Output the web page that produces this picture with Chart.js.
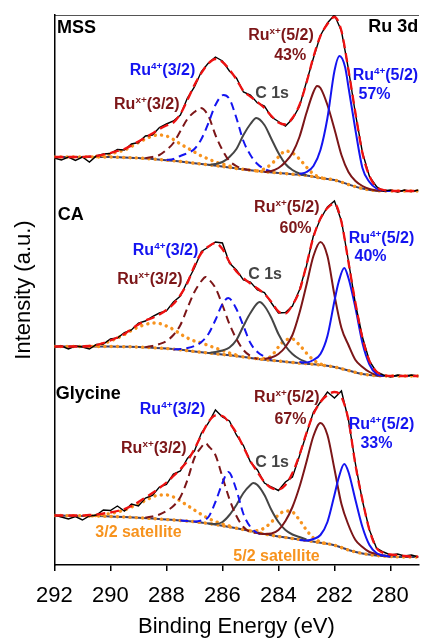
<!DOCTYPE html>
<html>
<head>
<meta charset="utf-8">
<script src="https://cdn.jsdelivr.net/npm/chart.js@4"></script>
<style>
  html, body { margin: 0; padding: 0; background: #fff; }
  canvas { display: block; }
</style>
</head>
<body>
<canvas id="xps" width="421" height="638"></canvas>
<script>
// Ru 3d / C 1s region, three samples stacked with an offset each
const energy = [292, 291.75, 291.5, 291.25, 291, 290.75, 290.5, 290.25, 290, 289.75, 289.5, 289.25, 289,
  288.75, 288.5, 288.25, 288, 287.75, 287.5, 287.25, 287, 286.75, 286.5, 286.25, 286, 285.75, 285.5, 285.25,
  285, 284.75, 284.5, 284.25, 284, 283.75, 283.5, 283.25, 283, 282.75, 282.5, 282.25, 282, 281.75, 281.5,
  281.25, 281, 280.75, 280.5, 280.25, 280, 279.75, 279.5, 279.25, 279];
const energyTicks = [292, 290, 288, 286, 284, 282, 280];
const samples = ['MSS', 'CA', 'Glycine'];
const ruxShare = [43, 60, 67];
const ru4Share = [57, 40, 33];

// MSS
const mssData = [33, 31, 34, 30.5, 34, 29, 35, 37, 37.5, 41.5, 41, 47, 48.5, 55, 56, 63.5, 67, 70, 76, 93, 104,
  119.5, 128, 134, 130, 120, 113, 99, 96, 88, 85, 74, 69.5, 65, 72, 84.5, 109, 133, 155.5, 168, 176, 160, 122,
  77, 38.5, 14.5, 4.5, 0, 1, -1, 1, -0.5, 1];
const mssFit = [34, 34, 34, 34, 34, 34.5, 35, 36.5, 38, 40, 42, 45.5, 49.5, 53.5, 57.5, 62, 65.5, 68.5, 77, 91,
  106, 118, 127.5, 132, 129, 121.5, 111.5, 100, 94.3, 89, 83, 75, 68.5, 66.5, 73, 86, 108, 134, 155, 167, 174,
  160, 121, 78, 38, 15, 4, 1, 0.3, 0, 0, 0, 0];
const mssBackground = [[292, 34], [291, 34], [290, 34], [289.5, 33.5], [289, 33], [288.5, 32], [288, 30.8],
  [287.5, 29.5], [287, 27.8], [286.5, 26.2], [286, 24.5], [285.5, 22.5], [285, 20.8], [284.5, 19.3], [284, 18],
  [283.5, 16.8], [283, 15.5], [282.5, 13], [282, 11], [281.5, 6.5], [281, 2.5], [280.5, 0.3], [280, 0], [279, 0]];
const mssRu4_52 = [[283.25, 17], [283, 19], [282.75, 25], [282.5, 41], [282.25, 73], [282, 120], [281.82, 135],
  [281.62, 124], [281.5, 104], [281.25, 61], [281, 23], [280.75, 9], [280.5, 2.5], [280.25, 0.5], [280, 0]];
const mssRux_52 = [[284.5, 19], [284.25, 20], [284, 23], [283.75, 29], [283.5, 38], [283.25, 54], [283, 78],
  [282.75, 99], [282.62, 105], [282.5, 103], [282.25, 86], [282, 62], [281.75, 36], [281.5, 19], [281.25, 10],
  [281, 5], [280.75, 2], [280.5, 0.5], [280.25, 0]];
const mssRu4_32 = [[288, 31], [287.75, 32], [287.5, 35], [287.25, 38], [287, 42], [286.75, 52], [286.5, 68],
  [286.25, 86], [285.96, 96], [285.75, 92], [285.5, 73], [285.25, 50], [285, 36], [284.75, 27], [284.5, 22],
  [284.25, 19.5]];
const mssRux_32 = [[288.75, 33], [288.5, 34], [288.25, 36], [288, 41], [287.75, 48], [287.5, 60], [287.25, 72],
  [287, 79], [286.78, 83], [286.5, 75], [286.25, 56], [286, 41], [285.75, 30], [285.5, 25], [285.25, 22], [285, 21]];
const mssC1s = [[286.5, 26], [286.25, 27], [286, 29], [285.75, 34], [285.5, 42], [285.25, 56], [285, 67],
  [284.79, 73], [284.5, 66], [284.25, 52], [284, 38], [283.75, 27], [283.5, 21], [283.25, 17.5], [283, 16]];
const mssSat52 = [[284.75, 20], [284.5, 22], [284.25, 27], [284, 34], [283.75, 40], [283.5, 38], [283.25, 32],
  [283, 24], [282.75, 17], [282.5, 13.5], [282.25, 12]];
const mssSat32 = [[290.5, 34.5], [290.25, 35.5], [290, 37], [289.75, 39], [289.5, 41], [289.25, 44.5], [289, 48.5],
  [288.75, 52], [288.5, 55], [288.25, 56], [288, 55], [287.75, 51.5], [287.5, 47], [287.25, 43], [287, 39],
  [286.75, 35], [286.5, 32], [286.25, 29], [286, 27], [285.75, 25], [285.5, 23]];

// CA
const caData = [29, 30, 27, 30, 29, 27, 31.5, 32, 37, 38, 43.5, 46, 53, 55, 59.5, 63, 65, 74, 80, 94.5, 108,
  124.5, 129, 134, 133, 113, 106, 96, 94, 86, 83.5, 73, 63, 63.5, 70, 86, 110, 140.5, 157, 169, 175, 155, 115,
  72, 39, 15, 4, 1, -1, 1, 0, 1, 0];
const caFit = [29.5, 29.5, 29.5, 29.5, 29.5, 30, 31, 33, 35.5, 38.5, 42, 47, 51.5, 55.5, 58, 61.5, 66, 72, 81,
  93, 110, 123, 129.5, 133, 127, 114, 104.5, 98, 92.5, 87.5, 82, 74, 64.5, 62.5, 71, 85, 111, 139, 157.5, 168,
  172.5, 154, 114, 73, 38, 15, 4.5, 1, 0, 0, 0, 0, 0];
const caBackground = [[292, 29.5], [290, 29.5], [289.5, 29.3], [289, 29], [288.5, 28.3], [288, 27.5],
  [287.5, 26.2], [287, 24.5], [286.5, 23], [286, 21.5], [285.5, 20], [285, 18], [284.5, 16.3], [284, 15],
  [283.5, 13.5], [283, 12.3], [282.5, 11], [282, 9], [281.5, 5.5], [281, 2], [280.5, 0.3], [280, 0], [279, 0]];
const caRu4_52 = [[283.25, 14], [283, 13.5], [282.75, 16], [282.5, 22], [282.25, 40], [282, 75], [281.85, 94],
  [281.65, 108], [281.5, 98], [281.25, 68], [281, 33], [280.75, 11.5], [280.5, 2], [280.25, 0]];
const caRux_52 = [[284.5, 17], [284.25, 18.5], [284, 22], [283.75, 29], [283.5, 41], [283.25, 63], [283, 91],
  [282.75, 120], [282.5, 134], [282.25, 120], [282, 81], [281.75, 48], [281.5, 31], [281.25, 16], [281, 9],
  [280.75, 4], [280.5, 1], [280.25, 0]];
const caRu4_32 = [[287.75, 26.5], [287.5, 27], [287.25, 28], [287, 30], [286.75, 34], [286.5, 42], [286.25, 56],
  [286, 72], [285.79, 78], [285.5, 67], [285.25, 50], [285, 33], [284.75, 24], [284.5, 19.5], [284.25, 17]];
const caRux_32 = [[288.75, 29], [288.5, 30], [288.25, 32], [288, 35], [287.75, 41], [287.5, 51], [287.25, 68],
  [287, 84], [286.75, 95], [286.6, 99], [286.5, 97], [286.25, 88], [286, 71], [285.75, 52], [285.5, 37],
  [285.25, 26], [285, 20], [284.75, 17]];
const caC1s = [[286.5, 23], [286.25, 24], [286, 25.5], [285.75, 28.5], [285.5, 36], [285.25, 50], [285, 63],
  [284.67, 74], [284.5, 70], [284.25, 58], [284, 42], [283.75, 30], [283.5, 22], [283.25, 17], [283, 14]];
const caSat52 = [[284.75, 17.5], [284.5, 17.5], [284.25, 20], [284, 29], [283.75, 36], [283.5, 37], [283.25, 31],
  [283, 23], [282.75, 16], [282.5, 12], [282.25, 10.5]];
const caSat32 = [[290.75, 29.5], [290.5, 30.5], [290.25, 32.5], [290, 35], [289.75, 38], [289.5, 41.5],
  [289.25, 45.5], [289, 49], [288.75, 51.5], [288.5, 53], [288.25, 52.5], [288, 50], [287.75, 46.5], [287.5, 42],
  [287.25, 38], [287, 35], [286.75, 33], [286.5, 30.5], [286.25, 28], [286, 25.5], [285.75, 23], [285.5, 21]];

// Glycine
const glyData = [42, 40, 38, 40.5, 37, 41, 42, 47, 46.5, 51, 46, 53, 51, 59, 61.5, 70, 72.5, 83, 86, 98.5, 106,
  124, 134, 147, 140, 136, 122, 111.5, 95, 87, 74, 70, 66.5, 75, 80, 101, 123, 145, 155, 165, 159, 166, 137,
  93, 56, 27, 9, 5, 2, 3, 1, 2, 0];
const glyFit = [41.5, 41.5, 41.5, 41.5, 41.5, 42, 42.5, 43.5, 44.5, 46, 48, 51, 55, 59.5, 64, 69, 74.5, 81, 88,
  96, 108, 122, 135, 141.5, 141, 134, 124, 110, 96, 85, 75, 69, 67.5, 72, 84, 102, 124, 143, 155, 162, 165,
  160, 137, 92, 57, 27, 9, 4, 2.5, 2, 1, 0.5, 0.3];
const glyBackground = [[292, 41.5], [290.5, 41], [290, 40.5], [289.5, 40], [289, 39.3], [288.5, 38.5],
  [288, 37.5], [287.5, 36.5], [287, 35.3], [286.5, 33.5], [286, 31.3], [285.5, 28.8], [285, 26], [284.5, 23],
  [284, 20.5], [283.5, 18.5], [283, 16.5], [282.5, 14.3], [282, 11.8], [281.5, 7], [281, 3.5], [280.5, 1.5],
  [280, 0.5], [279.5, 0], [279, 0]];
const glyRu4_52 = [[283.25, 17], [283, 16.5], [282.75, 18], [282.5, 22], [282.25, 35], [282, 62], [281.85, 79],
  [281.65, 93], [281.5, 85], [281.25, 57], [281, 30], [280.75, 12], [280.5, 4], [280.25, 1.5], [280, 0.5]];
const glyRux_52 = [[284.75, 24], [284.5, 23], [284.25, 23.5], [284, 27], [283.75, 36], [283.5, 50], [283.25, 70],
  [283, 95], [282.75, 121], [282.5, 134], [282.25, 122], [282, 88], [281.75, 53], [281.5, 32], [281.25, 17],
  [281, 10], [280.75, 5], [280.5, 3], [280.25, 1.5], [280, 0.5]];
const glyRu4_32 = [[287.5, 36.5], [287.25, 36], [287, 35.5], [286.75, 36.5], [286.5, 40], [286.25, 55], [286, 74],
  [285.79, 85], [285.5, 67], [285.25, 43], [285, 30], [284.75, 24], [284.5, 22]];
const glyRux_32 = [[288.75, 39.5], [288.5, 40.5], [288.25, 42.5], [288, 46], [287.75, 51], [287.5, 60],
  [287.25, 77], [287, 99], [286.75, 110], [286.6, 114], [286.5, 111], [286.25, 102], [286, 80], [285.75, 58],
  [285.5, 41], [285.25, 30], [285, 25], [284.75, 24]];
const glyC1s = [[286.5, 33.5], [286.25, 33], [286, 35], [285.75, 42], [285.5, 52], [285.25, 64], [285, 72],
  [284.9, 74], [284.75, 72], [284.5, 62], [284.25, 47], [284, 35], [283.75, 27], [283.5, 22.5], [283.25, 20],
  [283, 17.5]];
const glySat52 = [[285, 26], [284.75, 26.5], [284.5, 29], [284.25, 35], [284, 42], [283.75, 46], [283.5, 45],
  [283.25, 37], [283, 27], [282.75, 19], [282.5, 15], [282.25, 13]];
const glySat32 = [[290.75, 41], [290.5, 41.5], [290.25, 42.5], [290, 43.5], [289.75, 45], [289.5, 47],
  [289.25, 50], [289, 53], [288.75, 56.5], [288.5, 60], [288.25, 62], [288, 62], [287.75, 60], [287.5, 56],
  [287.25, 51.5], [287, 47], [286.75, 42.5], [286.5, 38.5], [286.25, 35.5], [286, 33], [285.75, 31]];

// vertical shift of each spectrum in the stack
const panelOffset = [374, 189, 8];

const FONT = '"Liberation Sans", Arial, sans-serif';
const BLUE = '#1414f0';
const WINE = '#7c1618';
const GREY = '#454545';
const ORANGE = '#f7931e';
const RED = '#ee1111';

const panels = [
  { data: mssData, fit: mssFit, bg: mssBackground, b52: mssRu4_52, r52: mssRux_52, b32: mssRu4_32, r32: mssRux_32, c: mssC1s, s52: mssSat52, s32: mssSat32 },
  { data: caData, fit: caFit, bg: caBackground, b52: caRu4_52, r52: caRux_52, b32: caRu4_32, r32: caRux_32, c: caC1s, s52: caSat52, s32: caSat32 },
  { data: glyData, fit: glyFit, bg: glyBackground, b52: glyRu4_52, r52: glyRux_52, b32: glyRu4_32, r32: glyRux_32, c: glyC1s, s52: glySat52, s32: glySat32 }
];

function onGrid(vals, off) {
  return energy.map((e, i) => ({ x: e, y: vals[i] + off }));
}
function fromPairs(pairs, off) {
  return pairs.map(p => ({ x: p[0], y: p[1] + off }));
}
function curve(points, color, extra) {
  return Object.assign({
    data: points, borderColor: color, borderWidth: 2, pointRadius: 0, fill: false,
    cubicInterpolationMode: 'monotone'
  }, extra || {});
}

const dots = { borderDash: [0.1, 6.2], borderCapStyle: 'round', borderWidth: 3.4 };
const dashes = { borderDash: [8, 5] };

const datasets = [];
panels.forEach((p, i) => {
  const off = panelOffset[i];
  datasets.push(curve(onGrid(p.fit, off), RED, { borderDash: [9, 5], borderWidth: 2.3, order: 0 }));
  datasets.push(curve(onGrid(p.data, off), '#000', { borderWidth: 1.4, cubicInterpolationMode: 'default', tension: 0, order: 1 }));
  datasets.push(curve(fromPairs(p.b52, off), BLUE, { order: 2 }));
  datasets.push(curve(fromPairs(p.r52, off), WINE, { order: 2 }));
  datasets.push(curve(fromPairs(p.b32, off), BLUE, Object.assign({ order: 2 }, dashes)));
  datasets.push(curve(fromPairs(p.r32, off), WINE, Object.assign({ order: 2 }, dashes)));
  datasets.push(curve(fromPairs(p.c, off), GREY, { order: 2 }));
  datasets.push(curve(fromPairs(p.s52, off), ORANGE, Object.assign({ order: 3 }, dots)));
  datasets.push(curve(fromPairs(p.s32, off), ORANGE, Object.assign({ order: 3 }, dots)));
  datasets.push(curve(fromPairs(p.bg, off), ORANGE, Object.assign({ order: 4 }, dots)));
  datasets.push(curve(fromPairs(p.bg, off), '#3a3f6a', { borderWidth: 2, order: 5 }));
});

// annotation placement: energy, height on the y scale, colour, size, alignment
const notes = [
  { t: samples[0], x: 291.91, y: 532, c: '#000', s: 18 },
  { t: 'Ru 3d', x: 280.79, y: 533, c: '#000', s: 18 },
  { t: 'Ru^4+^(3/2)', x: 289.31, y: 490, c: BLUE },
  { t: 'Ru^x+^(3/2)', x: 289.87, y: 456, c: WINE },
  { t: 'C 1s', x: 284.83, y: 467, c: GREY },
  { t: 'Ru^x+^(5/2)', x: 285.08, y: 525, c: WINE },
  { t: ruxShare[0] + '%', x: 283.58, y: 505, c: WINE, a: 'center' },
  { t: 'Ru^4+^(5/2)', x: 281.35, y: 485, c: BLUE },
  { t: ru4Share[0] + '%', x: 280.57, y: 466, c: BLUE, a: 'center' },

  { t: samples[1], x: 291.88, y: 345, c: '#000', s: 18 },
  { t: 'Ru^4+^(3/2)', x: 289.20, y: 310, c: BLUE },
  { t: 'Ru^x+^(3/2)', x: 289.76, y: 281, c: WINE },
  { t: 'C 1s', x: 285.08, y: 286, c: GREY },
  { t: 'Ru^x+^(5/2)', x: 284.87, y: 353, c: WINE },
  { t: ruxShare[1] + '%', x: 283.39, y: 332, c: WINE, a: 'center' },
  { t: 'Ru^4+^(5/2)', x: 281.49, y: 322, c: BLUE },
  { t: ru4Share[1] + '%', x: 280.71, y: 304, c: BLUE, a: 'center' },

  { t: samples[2], x: 291.95, y: 166, c: '#000', s: 18 },
  { t: 'Ru^4+^(3/2)', x: 288.95, y: 151, c: BLUE },
  { t: 'Ru^x+^(3/2)', x: 289.62, y: 112, c: WINE },
  { t: 'C 1s', x: 284.83, y: 98, c: GREY },
  { t: 'Ru^x+^(5/2)', x: 284.87, y: 163, c: WINE },
  { t: ruxShare[2] + '%', x: 283.57, y: 141, c: WINE, a: 'center' },
  { t: 'Ru^4+^(5/2)', x: 281.49, y: 136, c: BLUE },
  { t: ru4Share[2] + '%', x: 280.50, y: 117, c: BLUE, a: 'center' },
  { t: '3/2 satellite', x: 290.54, y: 28, c: ORANGE },
  { t: '5/2 satellite', x: 285.61, y: 4, c: ORANGE }
];

// text with ^...^ parts raised as superscript
function drawRich(ctx, text, x, y, size, align) {
  const parts = text.split('^');
  const sizeOf = i => (i % 2 ? size * 0.62 : size);
  let w = 0;
  parts.forEach((part, i) => {
    ctx.font = 'bold ' + sizeOf(i) + 'px ' + FONT;
    w += ctx.measureText(part).width;
  });
  let cx = align === 'center' ? x - w / 2 : x;
  parts.forEach((part, i) => {
    ctx.font = 'bold ' + sizeOf(i) + 'px ' + FONT;
    ctx.fillText(part, cx, i % 2 ? y - size * 0.38 : y);
    cx += ctx.measureText(part).width;
  });
}

const notesPlugin = {
  id: 'notes',
  afterDatasetsDraw(chart) {
    const { ctx, scales: { x, y } } = chart;
    ctx.save();
    ctx.textBaseline = 'alphabetic';
    ctx.textAlign = 'left';
    notes.forEach(n => {
      ctx.fillStyle = n.c;
      drawRich(ctx, n.t, x.getPixelForValue(n.x), y.getPixelForValue(n.y), n.s || 16, n.a);
    });
    ctx.restore();
  }
};

new Chart(document.getElementById('xps'), {
  type: 'line',
  data: { datasets: datasets },
  options: {
    responsive: false,
    animation: false,
    events: [],
    layout: { padding: { left: 6, top: 15, right: 0, bottom: 0 } },
    plugins: { legend: { display: false }, tooltip: { enabled: false } },
    scales: {
      x: {
        type: 'linear', position: 'bottom', reverse: true, min: 279, max: 292,
        afterBuildTicks: s => { s.ticks = energyTicks.map(v => ({ value: v })); },
        afterFit: s => { s.height = 73; },
        ticks: { font: { family: FONT, size: 22 }, color: '#000', padding: 12, maxRotation: 0, autoSkip: false },
        grid: { drawOnChartArea: false, drawTicks: true, tickLength: 6, color: '#000', lineWidth: 1.5 },
        border: { color: '#000', width: 1.5 },
        title: {
          display: true, text: 'Binding Energy (eV)', color: '#000',
          font: { family: FONT, size: 22, lineHeight: 1 }, padding: { top: 9.6, bottom: 0 }
        }
      },
      xTop: {
        type: 'linear', position: 'top', reverse: true, min: 279, max: 292,
        ticks: { display: false }, grid: { display: false, drawTicks: false },
        border: { color: '#555', width: 1 }
      },
      y: {
        min: 0, max: 550,
        ticks: { display: false }, grid: { display: false, drawTicks: false },
        border: { color: '#000', width: 1.5 },
        title: {
          display: true, text: 'Intensity (a.u.)', color: '#000',
          font: { family: FONT, size: 22, lineHeight: 1.2 }, padding: { top: 5, bottom: 17 }
        }
      }
    }
  },
  plugins: [notesPlugin]
});
</script>
</body>
</html>
